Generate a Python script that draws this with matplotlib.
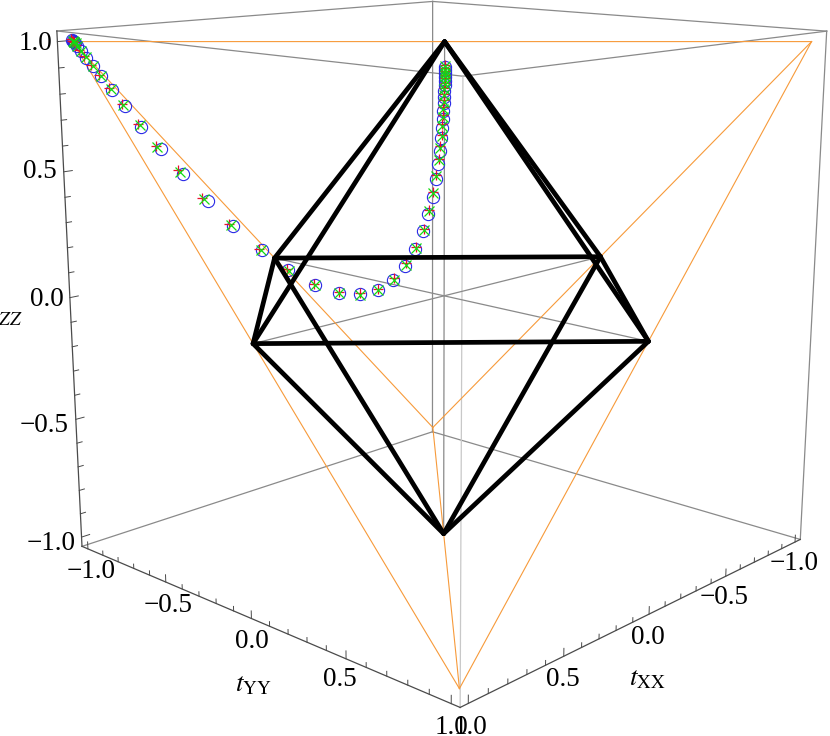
import numpy as np
import matplotlib
matplotlib.use("Agg")
import matplotlib.pyplot as plt

plt.rcParams['font.family'] = ['Liberation Serif', 'DejaVu Serif']
plt.rcParams['mathtext.fontset'] = 'stix'

# values: points lie in the plane tXX = s, tYY = -s, tZZ = z
blue_s = [1.001, 0.998, 0.996, 0.992, 0.988, 0.979, 0.966, 0.949, 0.928, 0.900, 0.866, 0.825, 0.774, 0.715, 0.651,
          0.583, 0.506, 0.433, 0.361, 0.294, 0.236, 0.184, 0.143, 0.109, 0.081, 0.059, 0.044, 0.032, 0.024, 0.018,
          0.013, 0.009, 0.007, 0.005, 0.004, 0.002, 0.001, 0.001, 0.000, 0.000, -0.001, -0.001, -0.001, -0.001]
blue_z = [1.006, 1.002, 0.998, 0.993, 0.983, 0.966, 0.939, 0.909, 0.869, 0.817, 0.753, 0.675, 0.588, 0.490, 0.385,
          0.284, 0.188, 0.106, 0.048, 0.014, 0.008, 0.026, 0.064, 0.122, 0.189, 0.261, 0.331, 0.398, 0.467, 0.527,
          0.579, 0.628, 0.669, 0.704, 0.735, 0.763, 0.789, 0.812, 0.833, 0.851, 0.866, 0.879, 0.892, 0.904]
red_s = [1.003, 1.000, 0.998, 0.995, 0.991, 0.983, 0.970, 0.953, 0.932, 0.907, 0.874, 0.832, 0.787, 0.728, 0.665,
         0.593, 0.512, 0.436, 0.363, 0.294, 0.235, 0.184, 0.140, 0.106, 0.078, 0.057, 0.042, 0.030, 0.023, 0.016,
         0.011, 0.007, 0.006, 0.004, 0.003, 0.002, 0.001, 0.001, 0.000, 0.000, -0.001, -0.001, -0.001, -0.001]
red_z = [1.008, 1.004, 1.001, 0.997, 0.988, 0.970, 0.944, 0.913, 0.875, 0.824, 0.763, 0.686, 0.599, 0.504, 0.396,
         0.294, 0.193, 0.110, 0.050, 0.018, 0.012, 0.030, 0.072, 0.132, 0.199, 0.271, 0.347, 0.418, 0.484, 0.547,
         0.596, 0.642, 0.683, 0.718, 0.749, 0.776, 0.801, 0.822, 0.842, 0.860, 0.874, 0.887, 0.899, 0.911]
green_s = [0.999, 0.996, 0.995, 0.991, 0.988, 0.979, 0.966, 0.949, 0.928, 0.903, 0.871, 0.829, 0.783, 0.725, 0.661,
           0.590, 0.509, 0.432, 0.359, 0.294, 0.235, 0.184, 0.140, 0.106, 0.078, 0.057, 0.042, 0.030, 0.023, 0.016,
           0.011, 0.007, 0.006, 0.004, 0.003, 0.002, 0.001, 0.001, 0.000, 0.000, -0.001, -0.001, -0.001, -0.001]
green_z = [1.004, 1.000, 0.998, 0.993, 0.984, 0.966, 0.940, 0.909, 0.871, 0.821, 0.759, 0.682, 0.595, 0.500, 0.393,
           0.290, 0.189, 0.105, 0.046, 0.012, 0.006, 0.024, 0.066, 0.126, 0.193, 0.265, 0.341, 0.412, 0.478, 0.541,
           0.590, 0.636, 0.677, 0.712, 0.743, 0.770, 0.795, 0.817, 0.836, 0.854, 0.868, 0.881, 0.893, 0.905]

tetra = [(1, -1, 1), (-1, 1, 1), (1, 1, -1), (-1, -1, -1)]
octa_mid = [(1, 0, 0), (0, 1, 0), (-1, 0, 0), (0, -1, 0)]
octa_top = (0, 0, 1)
octa_bot = (0, 0, -1)

tick_labels = ['\u22121.0', '\u22120.5', '0.0', '0.5', '1.0']

R = 1.04  # plot range with padding

# camera fitted to the cube corners of the picture
P = np.array([[0.33453614199046133, -0.22265501389263348, 0.022126230034528942, -0.6867518065738709],
              [-0.020817064145252022, -0.021264546761008373, 0.39527643985602656, -0.4574508357747908],
              [0.0001545112266841675, 0.00014387504267991615, 5.150591798712065e-05, -0.00154635413081107]])


def project(x, y, z):
    x, y, z = np.atleast_1d(x, y, z)
    p = P @ np.vstack([x*1.0, y*1.0, z*1.0, np.ones_like(x*1.0)])
    return p[0]/p[2], p[1]/p[2]


fig = plt.figure(figsize=(8.3, 7.36), dpi=100)
ax = fig.add_axes([0, 0, 1, 1])
ax.set_xlim(0, 830)
ax.set_ylim(736, 0)
ax.axis('off')


def line3(a, b, **kw):
    u, v = project(np.array([a[0], b[0]]), np.array([a[1], b[1]]), np.array([a[2], b[2]]))
    ax.plot(u, v, **kw)


# box
for a, b in [((-R, -R, R), (R, -R, R)), ((-R, -R, R), (-R, R, R)), ((R, R, R), (R, -R, R)), ((R, R, R), (-R, R, R)),
             ((-R, -R, -R), (R, -R, -R)), ((-R, -R, -R), (-R, R, -R)), ((-R, -R, -R), (-R, -R, R)),
             ((-R, R, -R), (-R, R, R))]:
    line3(a, b, color='#8a8a8a', lw=0.9)
line3((R, R, -R), (R, R, R), color='#c8c8c8', lw=0.9)
# axes through the origin
for a, b in [((-1, 0, 0), (1, 0, 0)), ((0, -1, 0), (0, 1, 0)), ((0, 0, -1), (0, 0, 1))]:
    line3(a, b, color='#8a8a8a', lw=0.9)

# tetrahedron
for i in range(4):
    for j in range(i+1, 4):
        line3(tetra[i], tetra[j], color='#f79a3a', lw=0.8)

# axes with ticks
axis_kw = dict(color='#4a4a4a', lw=0.9)
line3((R, -R, -R), (R, -R, R), **axis_kw)
line3((R, -R, -R), (R, R, -R), **axis_kw)
line3((R, R, -R), (-R, R, -R), **axis_kw)
tick_kw = dict(color='#4a4a4a', lw=0.7)
for k in range(-10, 11):
    t = k/10
    major = k % 5 == 0
    lz = 0.03 if major else 0.018
    lx = 0.04 if major else 0.025
    line3((R, -R, t), (R-lx, -R, t), **tick_kw)
    line3((R, t, -R), (R, t, -R+lz), **tick_kw)
    line3((t, R, -R), (t, R, -R+lz), **tick_kw)

# data
bs = np.array(blue_s)
rs = np.array(red_s)
gs = np.array(green_s)
u, v = project(bs, -bs, np.array(blue_z))
ax.plot(u, v, 'o', mfc='none', mec='#2a2ae6', ms=8.8, mew=0.8, ls='none')
u, v = project(rs, -rs, np.array(red_z))
ax.plot(u, v, '+', color='#e8102a', ms=7.5, mew=0.9, ls='none')
u, v = project(gs, -gs, np.array(green_z))
ax.plot(u, v, 'x', color='#12dc12', ms=6.5, mew=0.9, ls='none')

# octahedron
edge_kw = dict(color='k', lw=3.4, solid_capstyle='round', zorder=5)
for i in range(4):
    line3(octa_mid[i], octa_mid[(i+1) % 4], **edge_kw)
    line3(octa_mid[i], octa_top, **edge_kw)
    line3(octa_mid[i], octa_bot, **edge_kw)

# tick labels, placed next to their axis
text_kw = dict(fontsize=19.5, ha='center', va='center', color='k', clip_on=False)
z_pos = [(51, 544), (44, 425), (47, 300), (40, 172), (35, 43)]
yy_pos = [(91, 572), (168, 605), (252, 642), (340, 680), (451, 727)]
xx_pos = [(794, 563), (724, 598), (648, 637), (563, 679), (470, 727)]
for lab, (x, y) in zip(tick_labels, z_pos):
    ax.text(x, y, lab, **text_kw)
for lab, (x, y) in zip(tick_labels, yy_pos):
    ax.text(x, y, lab, **text_kw)
for lab, (x, y) in zip(tick_labels, xx_pos):
    ax.text(x, y, lab, **text_kw)

ax.text(253, 685, r'$t_{\mathrm{YY}}$', **text_kw)
ax.text(647, 679, r'$t_{\mathrm{XX}}$', **text_kw)
ax.text(23, 316, r'$t_{ZZ}$', fontsize=19.5, ha='right', va='center', clip_on=False)

fig.savefig('out.png', dpi=100)
